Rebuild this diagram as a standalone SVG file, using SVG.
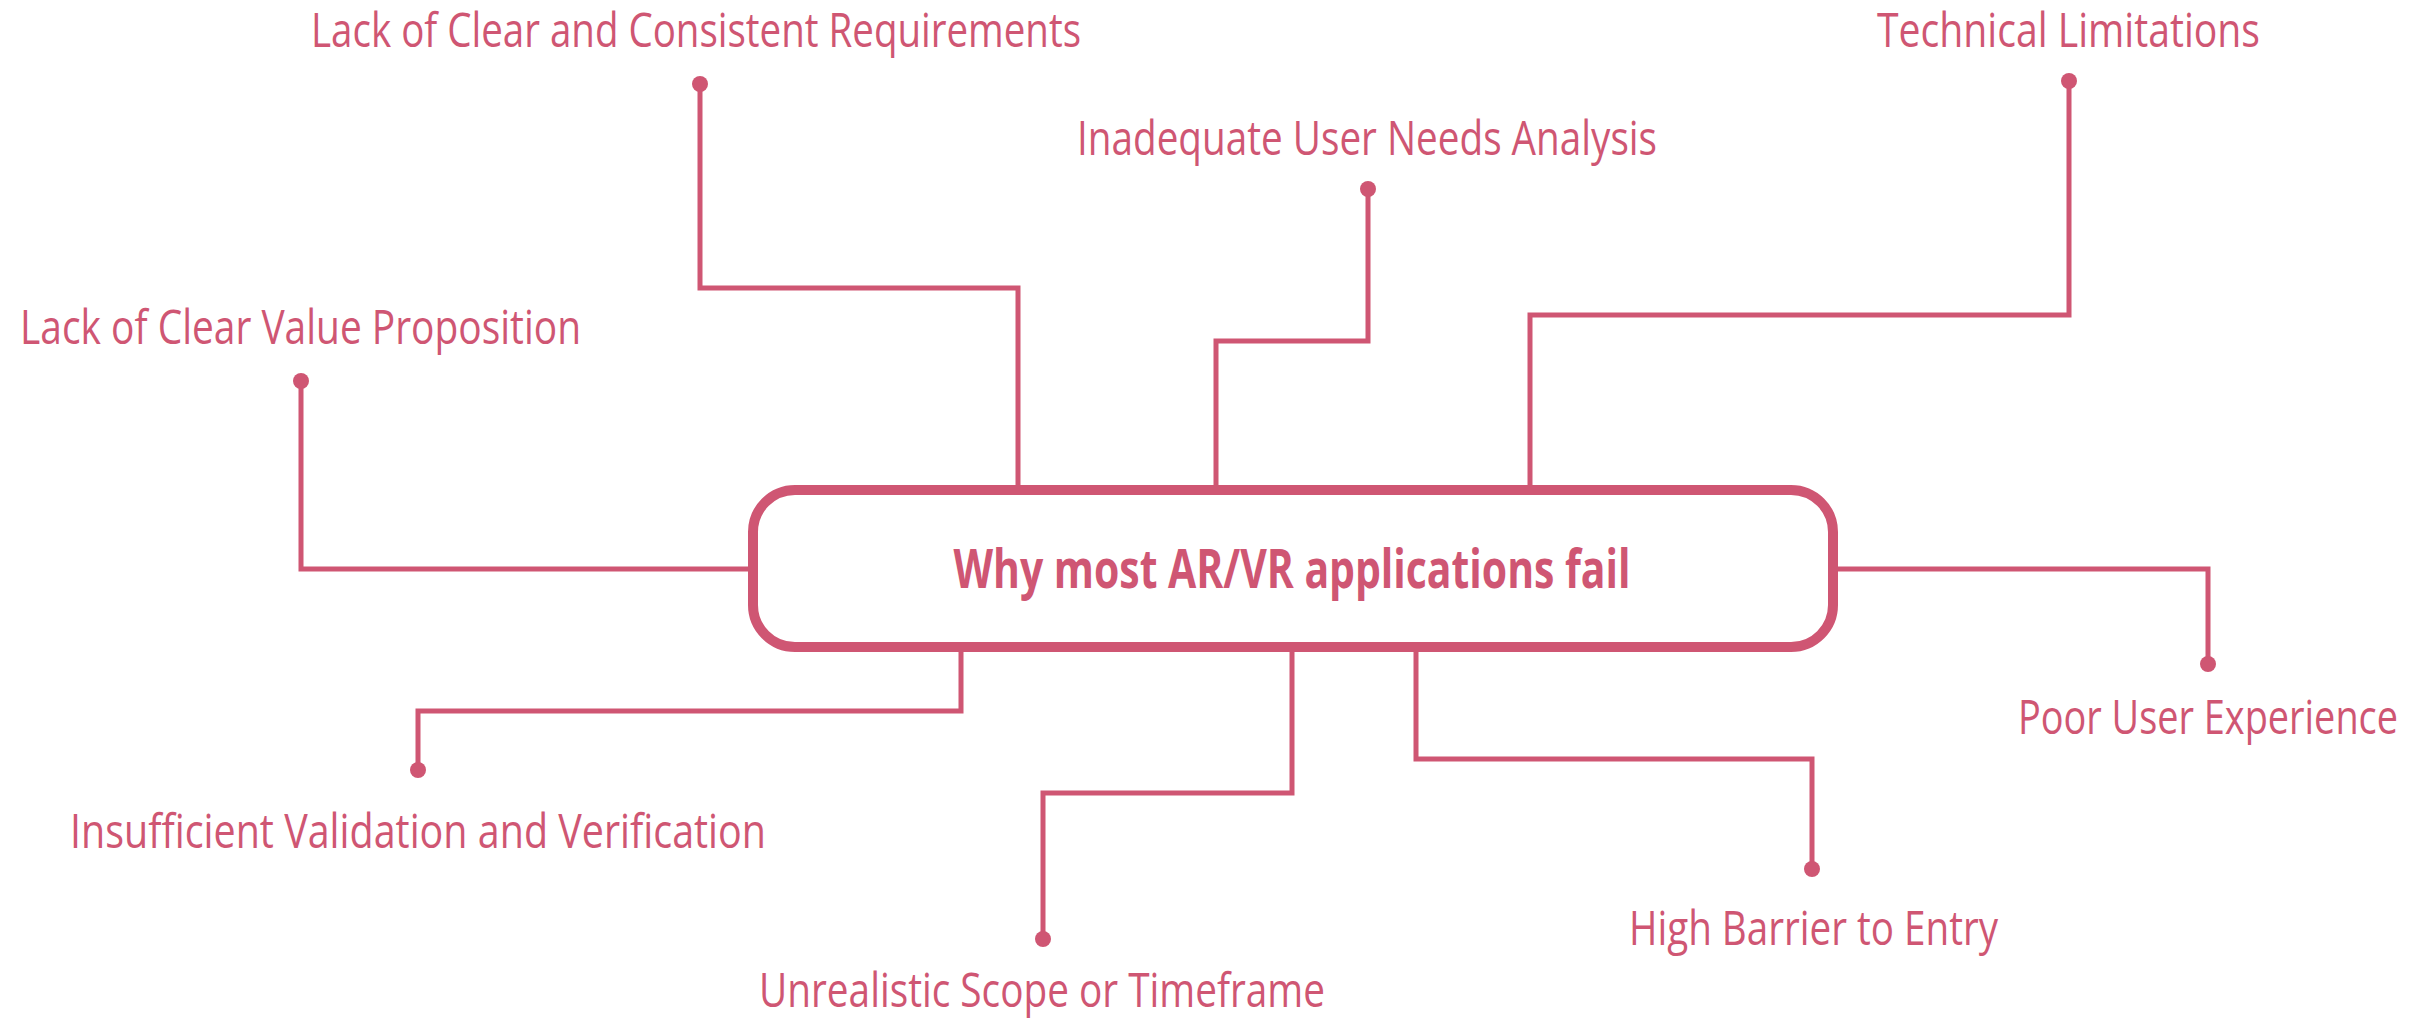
<svg xmlns="http://www.w3.org/2000/svg" width="2430" height="1019" viewBox="0 0 2430 1019">
<style>
.lbl{font-family:"Open Sans","Noto Sans","Liberation Sans",sans-serif;font-size:47px;fill:#CF5673;}
.title{font-family:"Open Sans","Noto Sans","Liberation Sans",sans-serif;font-size:54px;font-weight:bold;fill:#CF5673;}
.conn{fill:none;stroke:#CF5673;stroke-width:5;}
.dot{fill:#CF5673;}
</style>
<rect width="2430" height="1019" fill="#FFFFFF"/>
<g id="connectors">
<path class="conn" d="M700,84 V288 H1018 V490"/>
<path class="conn" d="M1368,189 V341 H1216 V490"/>
<path class="conn" d="M2069,81 V315 H1530 V490"/>
<path class="conn" d="M301,381 V569 H753"/>
<path class="conn" d="M1833,569 H2208 V664"/>
<path class="conn" d="M961,647 V711 H418 V770"/>
<path class="conn" d="M1292,647 V793 H1043 V939"/>
<path class="conn" d="M1416,647 V759 H1812 V869"/>
<circle class="dot" cx="700" cy="84" r="8"/>
<circle class="dot" cx="1368" cy="189" r="8"/>
<circle class="dot" cx="2069" cy="81" r="8"/>
<circle class="dot" cx="301" cy="381" r="8"/>
<circle class="dot" cx="2208" cy="664" r="8"/>
<circle class="dot" cx="418" cy="770" r="8"/>
<circle class="dot" cx="1043" cy="939" r="8"/>
<circle class="dot" cx="1812" cy="869" r="8"/>
</g>
<g id="center">
<rect x="753" y="490" width="1080" height="157" rx="42" fill="#FFFFFF" stroke="#CF5673" stroke-width="10"/>
<text class="title" x="1292" y="588" text-anchor="middle" textLength="677" lengthAdjust="spacingAndGlyphs">Why most AR/VR applications fail</text>
</g>
<g id="n1"><text class="lbl" x="311" y="47" textLength="770" lengthAdjust="spacingAndGlyphs">Lack of Clear and Consistent Requirements</text></g>
<g id="n2"><text class="lbl" x="1077" y="155" textLength="580" lengthAdjust="spacingAndGlyphs">Inadequate User Needs Analysis</text></g>
<g id="n3"><text class="lbl" x="2260" y="47" text-anchor="end" textLength="383" lengthAdjust="spacingAndGlyphs">Technical Limitations</text></g>
<g id="n4"><text class="lbl" x="20" y="344" textLength="561" lengthAdjust="spacingAndGlyphs">Lack of Clear Value Proposition</text></g>
<g id="n5"><text class="lbl" x="2398" y="734" text-anchor="end" textLength="380" lengthAdjust="spacingAndGlyphs">Poor User Experience</text></g>
<g id="n6"><text class="lbl" x="70" y="848" textLength="696" lengthAdjust="spacingAndGlyphs">Insufficient Validation and Verification</text></g>
<g id="n7"><text class="lbl" x="759" y="1007" textLength="566" lengthAdjust="spacingAndGlyphs">Unrealistic Scope or Timeframe</text></g>
<g id="n8"><text class="lbl" x="1629" y="945" textLength="369" lengthAdjust="spacingAndGlyphs">High Barrier to Entry</text></g>
</svg>
